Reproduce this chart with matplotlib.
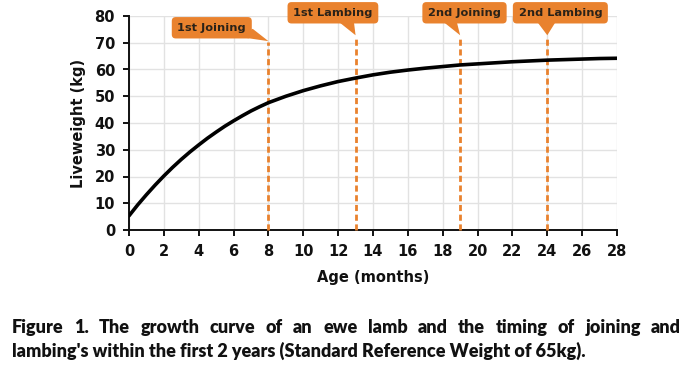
import matplotlib
matplotlib.use("Agg")
import matplotlib.pyplot as plt
from matplotlib.patches import Polygon

# ---- data ----
age_months = [0, 0.5, 1, 1.5, 2, 2.5, 3, 3.5, 4, 4.5, 5, 5.5, 6, 6.5, 7, 7.5, 8,
              9, 10, 11, 12, 13, 14, 15, 16, 17, 18, 19, 20, 21, 22, 23, 24,
              25, 26, 27, 28]
liveweight = [5.3, 9.4, 13.2, 16.8, 20.2, 23.4, 26.4, 29.2, 31.8, 34.3, 36.6,
              38.8, 40.8, 42.7, 44.5, 46.1, 47.6,
              50, 52.1, 53.9, 55.5, 56.8, 58, 59, 59.8, 60.5, 61.1, 61.7, 62.1,
              62.5, 62.9, 63.2, 63.5, 63.7, 63.9, 64.1, 64.2]
event_labels = ["1st Joining", "1st Lambing", "2nd Joining", "2nd Lambing"]
event_months = [8, 13, 19, 24]
x_ticks = list(range(0, 29, 2))
y_ticks = list(range(0, 81, 10))
caption_line1 = "Figure 1. The growth curve of an ewe lamb and the timing of joining and"
caption_line2 = "lambing's within the first 2 years (Standard Reference Weight of 65kg)."

ORANGE = "#E9822E"
W, H = 693, 370
fig = plt.figure(figsize=(W / 100, H / 100), dpi=100)
fig.patch.set_facecolor("white")
ax = fig.add_axes([129 / W, (H - 230) / H, (617 - 129) / W, (230 - 16) / H])

ax.set_xlim(0, 28)
ax.set_ylim(0, 80)
ax.set_xticks(x_ticks)
ax.set_yticks(y_ticks)
ax.grid(True, color="#e2e2e2", linewidth=1.0)
ax.set_axisbelow(True)
for s in ["top", "right"]:
    ax.spines[s].set_visible(False)
for s in ["left", "bottom"]:
    ax.spines[s].set_linewidth(1.4)
    ax.spines[s].set_color("#111111")
ax.tick_params(axis="both", direction="out", length=4, width=1.4, color="#111111",
               labelsize=10.5, pad=6)
for lab in ax.get_xticklabels() + ax.get_yticklabels():
    lab.set_fontweight("heavy")
    lab.set_color("#111111")

ax.set_xlabel("Age (months)", fontsize=10.5, fontweight="heavy", labelpad=8, color="#111111")
ax.set_ylabel("Liveweight (kg)", fontsize=10.5, fontweight="heavy", labelpad=6, color="#111111")

ax.plot(age_months, liveweight, color="black", linewidth=2.6, solid_capstyle="round",
        solid_joinstyle="round", zorder=4)

# event markers: box centre, dashed-line top, pointer polygon base points (data units)
layout = [
    dict(cx=4.75, cy=75.6, top=70.3, p1=(6.2, 72.3), p2=(7.1, 75.2)),
    dict(cx=11.7, cy=81.2, top=72.5, p1=(12.0, 78.0), p2=(12.9, 78.0)),
    dict(cx=19.25, cy=81.2, top=72.5, p1=(18.0, 78.0), p2=(18.8, 78.0)),
    dict(cx=24.75, cy=81.2, top=72.5, p1=(23.4, 78.0), p2=(24.5, 78.0)),
]
for lab, m, L in zip(event_labels, event_months, layout):
    ax.plot([m, m], [0, L["top"]], color=ORANGE, linewidth=2.0,
            linestyle=(0, (2.2, 1.3)), zorder=3, clip_on=False)
    ax.text(L["cx"], L["cy"], lab, ha="center", va="center", fontsize=8.2,
            fontweight="bold", color="#2a2218", zorder=6, clip_on=False,
            bbox=dict(boxstyle="round,pad=0.5,rounding_size=0.35",
                      facecolor=ORANGE, edgecolor="none"))
    poly = Polygon([L["p1"], L["p2"], (m, L["top"] + 0.3)], closed=True,
                   facecolor=ORANGE, edgecolor="none", zorder=5, clip_on=False)
    ax.add_patch(poly)

# caption (first line justified)
fig.canvas.draw()
r = fig.canvas.get_renderer()
words = caption_line1.split(" ")
cap_kw = dict(fontsize=13, fontweight="heavy", family=["Lato", "DejaVu Sans"],
              color="#111111", va="baseline")
x0, x1 = 12 / W, 681 / W
objs = [fig.text(0, 1 - 333 / H, w_, **cap_kw) for w_ in words]
widths = [o.get_window_extent(renderer=r).width / W for o in objs]
gap = (x1 - x0 - sum(widths)) / (len(words) - 1)
x = x0
for o, wd in zip(objs, widths):
    o.set_x(x)
    x += wd + gap
fig.text(x0, 1 - 357 / H, caption_line2, **cap_kw)

fig.savefig("out.png", dpi=100)
